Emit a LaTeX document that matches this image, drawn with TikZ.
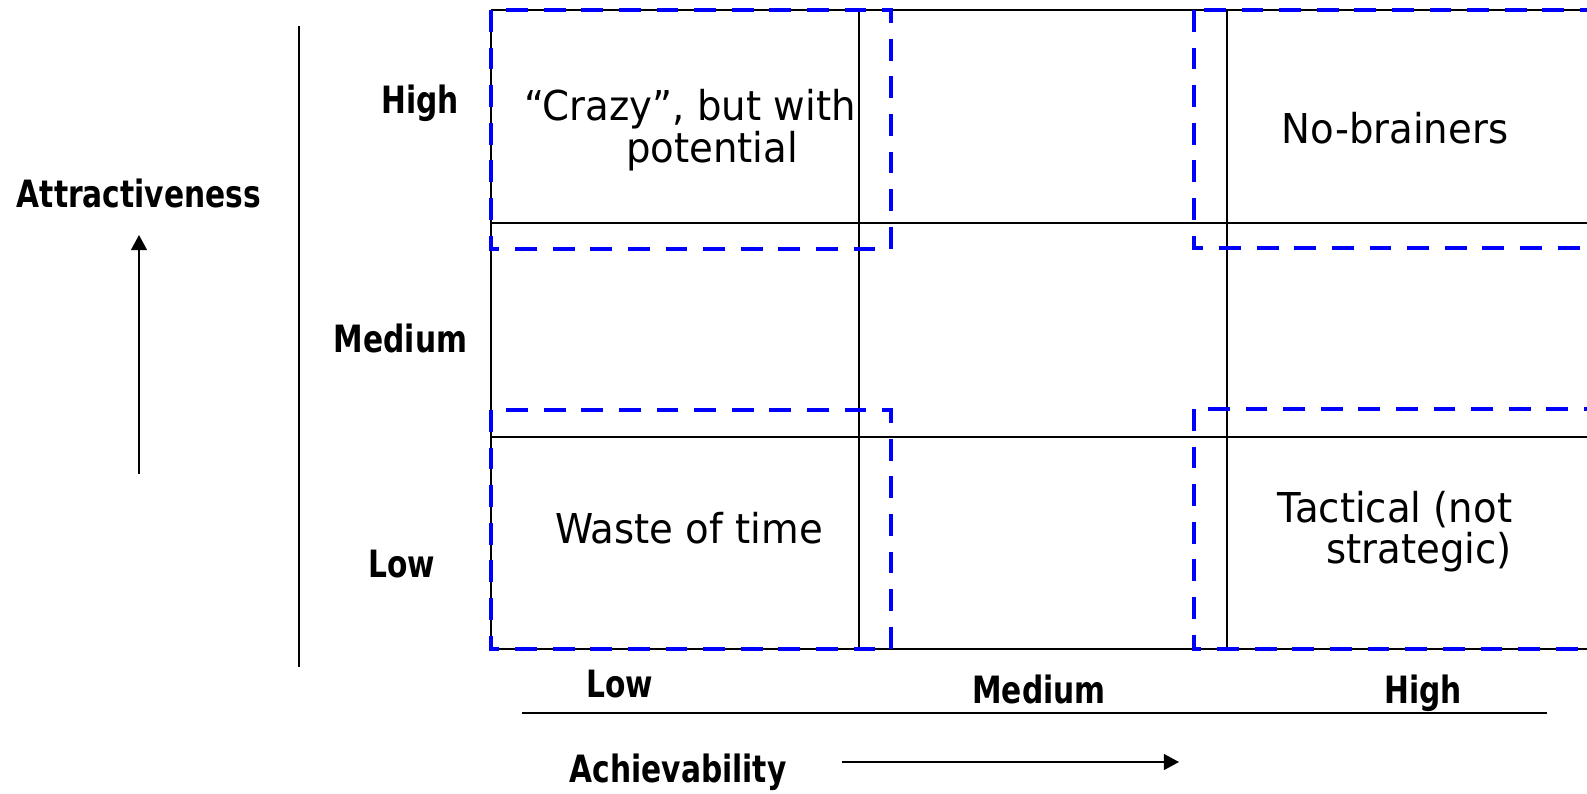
\documentclass[tikz,border=0pt]{standalone}
\usepackage{fontspec}
\newfontfamily\cellfont{DejaVu Sans}[FakeStretch=0.94]
\newfontfamily\lblfont{DejaVu Sans}[FakeStretch=0.79]
\usetikzlibrary{arrows.meta}
\tikzset{
  gridline/.style={line width=0.55pt},
  zone/.style={blue, line width=1.3pt, dash pattern=on 6.2pt off 4.5pt},
  axislbl/.style={font=\lblfont\bfseries\fontsize{10.7}{12}\selectfont, anchor=base, inner sep=0pt},
  celltxt/.style={font=\cellfont\fontsize{11.7}{12}\selectfont, anchor=base, inner sep=0pt},
  axisarrow/.style={line width=0.55pt, -{Triangle[length=4.3pt,width=4.5pt]}}
}

\begin{document}
\begin{tikzpicture}
\useasboundingbox (0,0) rectangle (15.87,7.93);
\clip (0,0) rectangle (15.87,7.93);
% grid
\foreach \y in {7.83,5.70,3.56,1.44} \draw[gridline] (4.91,\y)--(16.2,\y);
\foreach \x in {4.91,8.59,12.27,15.95} \draw[gridline] (\x,1.44)--(\x,7.83);
% dashed zones
\draw[zone] (4.91,7.83) rectangle (8.91,5.44);
\draw[zone] (4.91,3.83) rectangle (8.91,1.44);
\draw[zone] (11.94,7.83) rectangle (16.3,5.45);
\draw[zone] (11.94,3.84) rectangle (16.3,1.44);
% axes
\coordinate (sep0) at (2.99,1.26);
\coordinate (sep1) at (2.99,7.67);
\draw[gridline] (sep0)--(sep1);
\coordinate (att0) at (1.39,3.19);
\coordinate (att1) at (1.39,5.58);
\draw[axisarrow] (att0)--(att1);
\coordinate (base0) at (5.22,0.80);
\coordinate (base1) at (15.47,0.80);
\draw[gridline] (base0)--(base1);
\coordinate (ach0) at (8.42,0.31);
\coordinate (ach1) at (11.79,0.31);
\draw[axisarrow] (ach0)--(ach1);
% labels
\path
(1.39,5.86) node[axislbl] (attr) {Attractiveness};
\path
(4.20,6.80) node[axislbl] (rowhi) {High};
\path
(4.005,4.41) node[axislbl] (rowmed) {Medium};
\path
(4.02,2.16) node[axislbl] (rowlo) {Low};
\path
(6.195,0.96) node[axislbl] (collo) {Low};
\path
(10.39,0.90) node[axislbl] (colmed) {Medium};
\path
(14.23,0.90) node[axislbl] (colhi) {High};
\path
(6.78,0.11) node[axislbl] (achv) {Achievability};
% cell texts
\path
(6.90,6.72) node[celltxt] (crazy) {“Crazy”, but with};
\path
(7.12,6.31) node[celltxt] (crazyb) {potential};
\path
(13.95,6.50) node[celltxt] (nobrain) {No-brainers};
\path
(6.89,2.50) node[celltxt] (waste) {Waste of time};
\path
(13.95,2.71) node[celltxt] (tact) {Tactical (not};
\path
(14.19,2.30) node[celltxt] (tactb) {strategic)};
\end{tikzpicture}
\end{document}
